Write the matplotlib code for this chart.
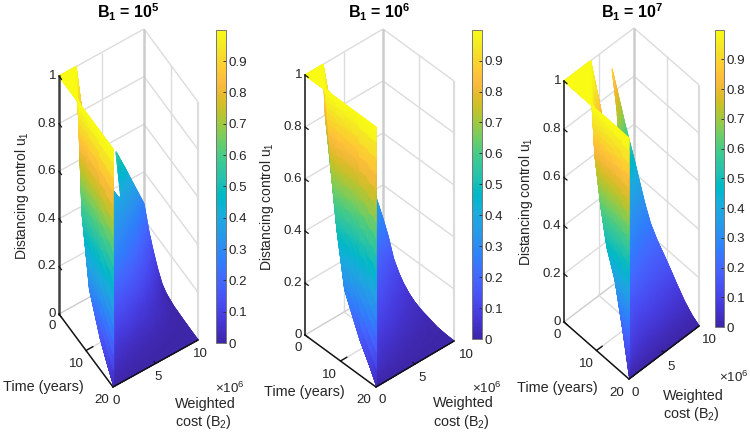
import numpy as np
import matplotlib
matplotlib.use('Agg')
import matplotlib.pyplot as plt
import matplotlib.tri as mtri
from matplotlib.colors import LinearSegmentedColormap, Normalize
from mpl_toolkits.mplot3d import proj3d

plt.rcParams['font.family'] = 'Liberation Sans'
plt.rcParams['mathtext.fontset'] = 'custom'
plt.rcParams['mathtext.rm'] = 'Liberation Sans'
plt.rcParams['mathtext.bf'] = 'Liberation Sans:bold'
plt.rcParams['mathtext.default'] = 'regular'

W, H = 750, 436

# values read off the three surfaces, u1 by time (rows) and weighted cost (columns, x 10^6)
# nan = hole in the surface
nan = np.nan

time_1 = [0, 1.85, 3.3, 5, 6.7, 8.2, 11, 15, 17.5, 20]
cost_1 = [0, 0.1, 0.5, 1, 1.45, 2, 2.4, 4, 6.3, 6.7, 8, 10]
u_1 = [
    [1, 1, 1, 1, 1, 1, 0.82, 0.62, nan, 0.55, 0.44, 0.265],
    [1, 1, 1, 1, 1, 0.87, 0.70, 0.55, 0.40, 0.38, 0.31, 0.175],
    [1, 1, 1, 1, 0.75, 0.55, 0.52, 0.45, 0.33, 0.31, 0.25, 0.122],
    [1, 1, 1, 0.75, 0.6, 0.47, 0.43, 0.37, 0.27, 0.25, 0.19, 0.07],
    [1, 1, 0.8, 0.65, 0.5, 0.40, 0.37, 0.31, 0.22, 0.20, 0.14, 0.03],
    [1, 0.55, 0.5, 0.45, 0.38, 0.33, 0.30, 0.25, 0.17, 0.15, 0.09, 0.015],
    [1, 0.27, 0.26, 0.24, 0.22, 0.20, 0.18, 0.14, 0.08, 0.07, 0.04, 0.004],
    [1, 0.125, 0.11, 0.10, 0.085, 0.07, 0.06, 0.04, 0.02, 0.018, 0.01, 0.001],
    [1, 0.06, 0.05, 0.04, 0.03, 0.025, 0.02, 0.012, 0.005, 0.004, 0.002, 0],
    [1, 0, 0, 0, 0, 0, 0, 0, 0, 0, 0, 0],
]

time_2 = [0, 1.5, 3, 4.5, 5.7, 7.4, 8.8, 11, 15.3, 18, 20]
cost_2 = [0, 0.1, 0.48, 1.09, 1.7, 2.3, 2.6, 5, 7.7, 8.9, 10]
u_2 = [
    [1, 1, 1, 1, 1, 1, 0.8, 0.6, 0.45, 0.39, 0.27],
    [1, 1, 1, 1, 1, 0.9, 0.62, 0.42, 0.30, 0.25, 0.215],
    [1, 1, 1, 1, 0.75, 0.55, 0.45, 0.33, 0.22, 0.17, 0.145],
    [1, 1, 1, 0.78, 0.6, 0.45, 0.38, 0.27, 0.17, 0.13, 0.105],
    [1, 1, 0.82, 0.65, 0.5, 0.40, 0.34, 0.23, 0.14, 0.105, 0.08],
    [1, 0.668, 0.6, 0.5, 0.42, 0.34, 0.29, 0.185, 0.105, 0.08, 0.055],
    [1, 0.49, 0.46, 0.4, 0.35, 0.30, 0.25, 0.15, 0.08, 0.06, 0.04],
    [1, 0.281, 0.27, 0.25, 0.22, 0.20, 0.17, 0.10, 0.05, 0.035, 0.025],
    [1, 0.132, 0.12, 0.105, 0.09, 0.075, 0.06, 0.03, 0.012, 0.008, 0.006],
    [1, 0.06, 0.05, 0.04, 0.03, 0.025, 0.02, 0.01, 0.004, 0.002, 0.001],
    [1, 0, 0, 0, 0, 0, 0, 0, 0, 0, 0],
]

time_3 = [0, 1.5, 3.2, 5, 7, 8.4, 9.3, 11.2, 13, 15.5, 17.9, 20]
cost_3 = [0, 0.1, 0.63, 1.54, 2.35, 3.12, 3.8, 5.3, 6.86, 8.7, 10]
u_3 = [
    [1, 1, 1, 1, 1, 1, 1, nan, 0.90, 0.63, 0.456],
    [1, 1, 1, 1, 1, 1, 0.92, nan, 0.75, 0.42, 0.39],
    [1, 1, 1, 1, 1, 0.93, 0.83, nan, 0.42, 0.33, 0.315],
    [1, 1, 1, 1, 0.85, 0.7, 0.48, 0.38, 0.33, 0.27, 0.25],
    [1, 1, 1, 0.82, 0.6, 0.45, 0.36, 0.31, 0.26, 0.22, 0.205],
    [1, 1, 0.85, 0.65, 0.47, 0.37, 0.30, 0.27, 0.22, 0.19, 0.18],
    [1, 0.80, 0.7, 0.55, 0.42, 0.34, 0.26, 0.24, 0.20, 0.175, 0.165],
    [1, 0.603, 0.55, 0.42, 0.32, 0.25, 0.21, 0.18, 0.155, 0.14, 0.13],
    [1, 0.463, 0.42, 0.30, 0.21, 0.17, 0.15, 0.13, 0.115, 0.10, 0.095],
    [1, 0.355, 0.28, 0.15, 0.12, 0.10, 0.09, 0.08, 0.07, 0.055, 0.05],
    [1, 0.176, 0.13, 0.07, 0.05, 0.04, 0.035, 0.03, 0.025, 0.02, 0.018],
    [1, 0, 0, 0, 0, 0, 0, 0, 0, 0, 0],
]

u_ticks = [0, 0.2, 0.4, 0.6, 0.8, 1]
time_ticks = [0, 10, 20]
cost_ticks = [0, 5, 10]
cbar_ticks = [0, 0.1, 0.2, 0.3, 0.4, 0.5, 0.6, 0.7, 0.8, 0.9]
titles = ['B$_1$ = 10$^5$', 'B$_1$ = 10$^6$', 'B$_1$ = 10$^7$']

# parula
parula = LinearSegmentedColormap.from_list('parula', [
    (0.2422, 0.1504, 0.6603), (0.2504, 0.1650, 0.7076), (0.2578, 0.1818, 0.7511),
    (0.2647, 0.1978, 0.7952), (0.2706, 0.2147, 0.8364), (0.2751, 0.2342, 0.8710),
    (0.2783, 0.2559, 0.8991), (0.2803, 0.2782, 0.9221), (0.2813, 0.3006, 0.9414),
    (0.2810, 0.3228, 0.9579), (0.2795, 0.3447, 0.9717), (0.2760, 0.3667, 0.9829),
    (0.2699, 0.3892, 0.9906), (0.2602, 0.4123, 0.9952), (0.2440, 0.4358, 0.9988),
    (0.2206, 0.4603, 0.9973), (0.1963, 0.4847, 0.9892), (0.1834, 0.5074, 0.9798),
    (0.1786, 0.5289, 0.9682), (0.1764, 0.5499, 0.9520), (0.1687, 0.5703, 0.9359),
    (0.1540, 0.5902, 0.9218), (0.1460, 0.6091, 0.9079), (0.1380, 0.6276, 0.8973),
    (0.1248, 0.6459, 0.8883), (0.1113, 0.6635, 0.8763), (0.0952, 0.6798, 0.8598),
    (0.0689, 0.6948, 0.8394), (0.0297, 0.7082, 0.8163), (0.0036, 0.7203, 0.7917),
    (0.0067, 0.7312, 0.7660), (0.0433, 0.7411, 0.7394), (0.0964, 0.7500, 0.7120),
    (0.1408, 0.7584, 0.6842), (0.1717, 0.7670, 0.6554), (0.1938, 0.7758, 0.6251),
    (0.2161, 0.7843, 0.5923), (0.2470, 0.7918, 0.5567), (0.2906, 0.7973, 0.5188),
    (0.3406, 0.8008, 0.4789), (0.3909, 0.8029, 0.4354), (0.4456, 0.8024, 0.3909),
    (0.5044, 0.7993, 0.3480), (0.5616, 0.7942, 0.3045), (0.6174, 0.7876, 0.2612),
    (0.6720, 0.7793, 0.2227), (0.7242, 0.7698, 0.1910), (0.7738, 0.7598, 0.1646),
    (0.8203, 0.7498, 0.1535), (0.8634, 0.7406, 0.1596), (0.9035, 0.7330, 0.1774),
    (0.9393, 0.7288, 0.2100), (0.9728, 0.7298, 0.2394), (0.9956, 0.7434, 0.2371),
    (0.9970, 0.7659, 0.2199), (0.9952, 0.7893, 0.2028), (0.9892, 0.8136, 0.1885),
    (0.9786, 0.8386, 0.1766), (0.9676, 0.8639, 0.1643), (0.9610, 0.8890, 0.1537),
    (0.9597, 0.9135, 0.1423), (0.9628, 0.9373, 0.1265), (0.9691, 0.9606, 0.1064),
    (0.9769, 0.9839, 0.0805),
], N=256)
norm = Normalize(0, 0.999)

# layout of each panel, pixels of the reference
panels = [
    dict(time=time_1, cost=cost_1, u=u_1, elev=59.8, azim=-32.6, box=(100.2, 100.9, 473), u_px=238,
         origin=(59, 314), axis_lw=1.8, axis_col='#404040', cbar=(216, 226, 30, 343),
         ylabel=(22, 196), tlabel=(43, 387), clabel=(175, 404, 422), exp=(230, 388), title=128,
         time_off=[(-7, 12), (-10, 13.5), (-11, 13.5)], cost_off=[(3, 14.5), (2.5, 14), (2, 14.5)]),
    dict(time=time_2, cost=cost_2, u=u_2, elev=41.1, azim=-41.9, box=(106.3, 104.8, 345), u_px=260,
         origin=(305, 335), axis_lw=1.1, axis_col='#111111', cbar=(472, 482, 30, 339),
         ylabel=(267, 207), tlabel=(304, 392), clabel=(433, 403, 422), exp=(487, 388), title=379,
         time_off=[(-7, 13), (-11, 13.5), (-12, 12.5)], cost_off=[(6, 12.5), (7, 13.5), (12, 13.5)]),
    dict(time=time_3, cost=cost_3, u=u_3, elev=54.6, azim=-42.9, box=(95.5, 95.6, 416), u_px=241,
         origin=(564, 322), axis_lw=1.1, axis_col='#111111', cbar=(715, 724, 30, 327),
         ylabel=(526, 202), tlabel=(557, 388), clabel=(663, 396, 414), exp=(734, 377), title=632,
         time_off=[(-7, 13), (-10.5, 13), (-12, 13.5)], cost_off=[(6, 13.5), (7, 14), (10, 14.5)]),
]

GRID = '#dcdcdc'
TXT = '#262626'


def to_2d(ax, t, b, u):
    return proj3d.proj_transform(t, b, u, ax.get_proj())


def to_px(ax, t, b, u):
    x, y, _ = to_2d(ax, t, b, u)
    px, py = ax.transData.transform((x, y))
    return px, H - py


def label(x, y, s, **kw):
    kw.setdefault('color', TXT)
    kw.setdefault('fontsize', 9.6)
    kw.setdefault('ha', 'center')
    kw.setdefault('va', 'center')
    fig.text(x / W, 1 - y / H, s, **kw)


def fit_axes(ax, p):
    # scale and shift the 3d box so that it lands on the reference pixels
    ax.apply_aspect()
    ax.set_box_aspect(p['box'], zoom=1)
    a = to_px(ax, 0, 0, 0)
    c = to_px(ax, 0, 0, 1)
    ax.set_box_aspect(p['box'], zoom=p['u_px'] / abs(a[1] - c[1]))
    a = to_px(ax, 0, 0, 0)
    pos = ax.get_position(original=True)
    ax.set_position([pos.x0 + (p['origin'][0] - a[0]) / W, pos.y0 - (p['origin'][1] - a[1]) / H,
                     pos.width, pos.height])
    ax.apply_aspect()


def draw_box(ax, p):
    def line(t, b, u, col=GRID, lw=1.0, z=1):
        ax.plot(t, b, u, color=col, lw=lw, zorder=z, solid_capstyle='butt')

    for u in u_ticks[1:]:
        line([0, 0], [0, 10], [u, u])
        line([0, 20], [10, 10], [u, u])
    line([0, 0], [5, 5], [0, 1])
    line([10, 10], [10, 10], [0, 1])
    line([0, 0], [10, 10], [0, 1], col='#cccccc', lw=1.8)
    line([20, 20], [10, 10], [0, 1], lw=1.6)
    line([0, 0], [0, 10], [0, 0], col='#cccccc')
    line([0, 20], [10, 10], [0, 0], col='#cccccc')
    line([10, 10], [0, 10], [0, 0])
    line([0, 20], [5, 5], [0, 0])


def draw_axes(ax, p):
    col, lw = p['axis_col'], p['axis_lw']
    ax.plot([0, 0], [0, 0], [0, 1], color=col, lw=lw, zorder=5, solid_capstyle='projecting')
    ax.plot([0, 20], [0, 0], [0, 0], color='#111111', lw=1.1, zorder=5)
    ax.plot([20, 20], [0, 10], [0, 0], color='#111111', lw=1.1, zorder=5)
    for u in u_ticks:
        ax.plot([0, 0.9], [0, 0], [u, u], color='#111111', lw=0.9, zorder=5)
        px, py = to_px(ax, 0, 0, u)
        label(px - 3, py, '%g' % u, ha='right')
    for t, off in zip(time_ticks, p['time_off']):
        if 0 < t < 20:
            ax.plot([t, t], [0, 0.8], [0, 0], color='#111111', lw=1.0, zorder=5)
        px, py = to_px(ax, t, 0, 0)
        label(px + off[0], py + off[1], str(t))
    for b, off in zip(cost_ticks, p['cost_off']):
        if 0 < b < 10:
            ax.plot([19.4, 20], [b, b], [0, 0], color='#111111', lw=0.8, zorder=5)
        px, py = to_px(ax, 20, b, 0)
        label(px + off[0], py + off[1], str(b))


def draw_surface(ax, p):
    time = np.array(p['time'], dtype=float)
    cost = np.array(p['cost'], dtype=float)
    u = np.array(p['u'], dtype=float)
    nt, nb = u.shape
    ok = np.isfinite(u).ravel()
    tt, bb = np.meshgrid(time, cost, indexing='ij')

    tris = []
    for i in range(nt - 1):
        for j in range(nb - 1):
            a, b, c, d = i * nb + j, i * nb + j + 1, (i + 1) * nb + j, (i + 1) * nb + j + 1
            if ok[[a, b, c, d]].all():
                tris.append([a, b, c])
                tris.append([b, d, c])

    # split the cells so the colours follow the colormap across them
    base = mtri.Triangulation(tt.ravel(), bb.ravel(), np.array(tris))
    vals = np.nan_to_num(u.ravel())
    refiner = mtri.UniformTriRefiner(base)
    fine, fine_u = refiner.refine_field(vals, triinterpolator=mtri.LinearTriInterpolator(base, vals), subdiv=4)
    fine_u = np.ma.filled(fine_u, 0.0)

    x, y, depth = to_2d(ax, fine.x, fine.y, fine_u)
    order = np.argsort(-depth[fine.triangles].mean(axis=1))
    # second pass closes the thin seams between the gouraud triangles
    for k in range(2):
        mesh = ax.tripcolor(x, y, fine.triangles[order], fine_u, shading='gouraud',
                            cmap=parula, norm=norm, zorder=3)
        mesh.set_clip_on(False)
        mesh.do_3d_projection = lambda: 0
    return mesh


fig = plt.figure(figsize=(W / 100, H / 100), dpi=100)

for i, p in enumerate(panels):
    ax = fig.add_axes([0, 0, 1, 1], projection='3d', proj_type='ortho')
    ax.computed_zorder = False
    ax.patch.set_visible(False)
    ax.set_axis_off()
    ax.view_init(elev=p['elev'], azim=p['azim'])
    ax.set_xlim(0, 20, view_margin=0)
    ax.set_ylim(0, 10, view_margin=0)
    ax.set_zlim(0, 1, view_margin=0)
    ax.set_autoscale_on(False)
    fit_axes(ax, p)

    draw_box(ax, p)
    mesh = draw_surface(ax, p)
    draw_axes(ax, p)

    label(p['title'], 12, titles[i], color='black', fontsize=11.5, fontweight='bold')
    label(p['ylabel'][0], p['ylabel'][1], 'Distancing control u$_1$', rotation=90, fontsize=10)
    label(p['tlabel'][0], p['tlabel'][1], 'Time (years)', fontsize=10.4)
    label(p['clabel'][0], p['clabel'][1], 'Weighted', ha='left', fontsize=10.4)
    label(p['clabel'][0], p['clabel'][2], 'cost (B$_2$)', ha='left', fontsize=10.4)
    label(p['exp'][0], p['exp'][1], r'$\times10^6$', fontsize=9.6)

    x0, x1, y0, y1 = p['cbar']
    cax = fig.add_axes([x0 / W, 1 - y1 / H, (x1 - x0) / W, (y1 - y0) / H])
    cb = fig.colorbar(mesh, cax=cax, ticks=cbar_ticks, format='%g')
    cb.outline.set_edgecolor('#777777')
    cb.outline.set_linewidth(0.7)
    cax.tick_params(direction='in', length=2.5, width=0.7, color='#333333',
                    labelsize=9.6, labelcolor=TXT, pad=2)

fig.savefig('out.png', dpi=100)
